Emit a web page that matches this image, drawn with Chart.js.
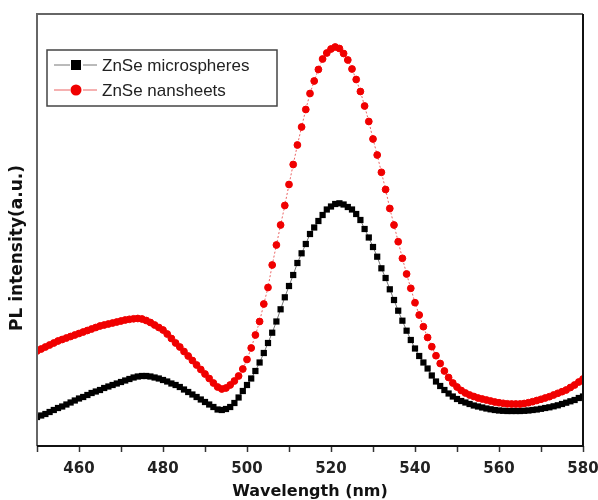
<!DOCTYPE html>
<html>
<head>
<meta charset="utf-8">
<script src="https://cdn.jsdelivr.net/npm/chart.js@4.4.1/dist/chart.umd.min.js"></script>
<style>
  html, body { margin: 0; padding: 0; background: #fff; }
  #wrap { width: 598px; height: 500px; position: relative; }
</style>
</head>
<body>
<div id="wrap"><canvas id="chart"></canvas></div>
<script>
// PL spectra, 1 nm steps
const wavelengths = [
  450, 451, 452, 453, 454, 455, 456, 457, 458, 459,
  460, 461, 462, 463, 464, 465, 466, 467, 468, 469,
  470, 471, 472, 473, 474, 475, 476, 477, 478, 479,
  480, 481, 482, 483, 484, 485, 486, 487, 488, 489,
  490, 491, 492, 493, 494, 495, 496, 497, 498, 499,
  500, 501, 502, 503, 504, 505, 506, 507, 508, 509,
  510, 511, 512, 513, 514, 515, 516, 517, 518, 519,
  520, 521, 522, 523, 524, 525, 526, 527, 528, 529,
  530, 531, 532, 533, 534, 535, 536, 537, 538, 539,
  540, 541, 542, 543, 544, 545, 546, 547, 548, 549,
  550, 551, 552, 553, 554, 555, 556, 557, 558, 559,
  560, 561, 562, 563, 564, 565, 566, 567, 568, 569,
  570, 571, 572, 573, 574, 575, 576, 577, 578, 579,
  580
];

const microspheres = [
  29, 30.5, 32, 34, 36, 38, 39.5, 41.5, 43.5, 45.5,
  47.5, 49, 51, 53, 54.5, 56, 58, 59.5, 61, 62.5,
  64, 65.5, 67, 68.5, 69.5, 70, 70, 69.5, 68.5, 67.5,
  66, 64.5, 62.5, 61, 59, 56.5, 54, 51.5, 49, 46.5,
  44, 41.5, 39, 36.5, 36, 37, 39, 43, 48.5, 55,
  61, 67.5, 75, 83.5, 93, 103, 113.3, 124.5, 136.7, 148.7,
  160, 171, 183, 192.7, 202, 212, 218.5, 225, 231, 236.5,
  239.5, 242, 242.7, 241.5, 239, 236.5, 232, 226, 217, 208.5,
  199, 189.3, 177.7, 168, 156.7, 146, 135.3, 125.3, 115.3, 106,
  97.5, 90, 83.5, 77.5, 70.5, 64.5, 60, 56, 52.5, 49.5,
  47, 45, 43.5, 42, 40.5, 39.5, 38.5, 37.5, 36.7, 36,
  35.5, 35.2, 35, 35, 35, 35, 35.2, 35.5, 36, 36.5,
  37.2, 38, 38.7, 39.7, 40.7, 42, 43.3, 44.7, 46, 48,
  49.5
];

const nanosheets = [
  95, 97, 99, 101, 103, 105, 106.5, 108, 109.5, 111,
  112.5, 114, 115.5, 117, 118.5, 120, 121, 122, 123, 124,
  125, 126, 126.7, 127.2, 127.5, 127, 125.5, 123.5, 121, 118.5,
  116, 112, 107.5, 103, 99, 94.5, 90, 85.5, 81, 76.5,
  72, 67.5, 63, 59, 57, 58, 61, 65, 70, 77,
  86.5, 98, 111, 124.5, 142, 158.5, 181, 201, 221, 240.5,
  261.5, 281.5, 301, 319, 336.5, 352.5, 365, 376.5, 387, 393,
  397, 399, 397.5, 392.5, 386, 377, 366.5, 354.5, 340, 324.5,
  307, 291, 273.7, 256.5, 237.5, 221, 204.3, 187.7, 172, 157.7,
  143.3, 131, 119.3, 108.5, 99.3, 90.3, 82.5, 75, 68.5, 63,
  59, 55.5, 53, 51, 49.5, 48, 47, 46, 45, 44,
  43.3, 42.7, 42.2, 42, 42, 42, 42.5, 43.3, 44.3, 45.5,
  46.7, 48, 49.3, 51, 52.7, 54.3, 56, 58.5, 61, 64,
  67
];

const xLabeled = [460, 480, 500, 520, 540, 560, 580];

function toPoints(values) {
  return wavelengths.map((w, i) => ({ x: w, y: values[i] }));
}

// frame around the plot area
const frame = {
  id: "frame",
  afterDraw(chart) {
    const { ctx, chartArea: a } = chart;
    ctx.save();
    ctx.lineWidth = 2;
    ctx.strokeStyle = "#666";
    ctx.beginPath();
    ctx.moveTo(a.left, a.bottom);
    ctx.lineTo(a.left, a.top);
    ctx.lineTo(a.right, a.top);
    ctx.stroke();
    ctx.strokeStyle = "#111";
    ctx.beginPath();
    ctx.moveTo(a.left, a.bottom);
    ctx.lineTo(a.right, a.bottom);
    ctx.lineTo(a.right, a.top);
    ctx.stroke();

    // y axis title
    ctx.translate(18, 248);
    ctx.rotate(-Math.PI / 2);
    ctx.font = 'bold 17px "DejaVu Sans"';
    ctx.fillStyle = "#111";
    ctx.textAlign = "center";
    ctx.textBaseline = "middle";
    ctx.fillText("PL intensity(a.u.)", 0, 0);
    ctx.restore();
  },
};

// boxed legend, line-marker-line symbols
const boxLegend = {
  id: "boxLegend",
  afterDraw(chart) {
    const { ctx } = chart;
    const sets = [chart.data.datasets[1], chart.data.datasets[0]];
    ctx.save();
    ctx.fillStyle = "#fff";
    ctx.fillRect(47, 50, 230, 56);
    ctx.lineWidth = 1.5;
    ctx.strokeStyle = "#444";
    ctx.strokeRect(47, 50, 230, 56);
    sets.forEach((ds, i) => {
      const y = 65 + i * 25;
      ctx.strokeStyle = ds.borderColor;
      ctx.lineWidth = 1;
      ctx.beginPath();
      ctx.moveTo(54, y);
      ctx.lineTo(70, y);
      ctx.moveTo(83, y);
      ctx.lineTo(97, y);
      ctx.stroke();
      ctx.fillStyle = ds.pointBackgroundColor;
      ctx.beginPath();
      if (ds.pointStyle === "rect") ctx.rect(71, y - 5, 10, 10);
      else ctx.arc(76, y, 5.5, 0, Math.PI * 2);
      ctx.fill();
      ctx.fillStyle = "#222";
      ctx.font = '17px "Liberation Sans", Arial, sans-serif';
      ctx.textBaseline = "middle";
      ctx.fillText(ds.label, 102, y + 1);
    });
    ctx.restore();
  },
};

new Chart(document.getElementById("chart"), {
  type: "line",
  data: {
    datasets: [
      {
        label: "ZnSe nansheets",
        data: toPoints(nanosheets),
        borderColor: "rgba(230,60,60,0.8)",
        borderWidth: 1,
        borderDash: [2, 2],
        pointStyle: "circle",
        pointRadius: 3.4,
        pointBorderWidth: 1,
        pointBackgroundColor: "#f00000",
        pointBorderColor: "#f00000",
        order: 1,
      },
      {
        label: "ZnSe microspheres",
        data: toPoints(microspheres),
        borderColor: "#777",
        borderWidth: 1,
        pointStyle: "rect",
        pointRadius: 4.4,
        pointBorderWidth: 0,
        pointBackgroundColor: "#000",
        pointBorderColor: "#000",
        order: 2,
      },
    ],
  },
  options: {
    responsive: true,
    maintainAspectRatio: false,
    animation: false,
    layout: { padding: { left: 0, right: 15, top: 14, bottom: 0 } },
    plugins: {
      legend: { display: false },
      tooltip: { enabled: false },
    },
    scales: {
      x: {
        type: "linear",
        min: 450,
        max: 580,
        afterFit(scale) {
          scale.height = 54;
          scale.paddingLeft = 0;
          scale.paddingRight = 0;
        },
        border: { display: false },
        grid: {
          drawOnChartArea: false,
          drawTicks: true,
          tickLength: 6,
          tickColor: "#333",
          tickWidth: 1.5,
        },
        ticks: {
          stepSize: 10,
          padding: 8,
          maxRotation: 0,
          autoSkip: false,
          color: "#222",
          font: { family: "DejaVu Sans", weight: "bold", size: 15 },
          callback: (v) => (xLabeled.includes(v) ? String(v) : ""),
        },
        title: {
          display: true,
          text: "Wavelength (nm)",
          color: "#111",
          padding: { top: 0, bottom: 0 },
          font: { family: "DejaVu Sans", weight: "bold", size: 16, lineHeight: 1 },
        },
      },
      y: {
        min: 0,
        max: 432,
        afterFit(scale) { scale.width = 37; },
        border: { display: false },
        grid: { display: false },
        ticks: { display: false },
      },
    },
  },
  plugins: [frame, boxLegend],
});
</script>
</body>
</html>
